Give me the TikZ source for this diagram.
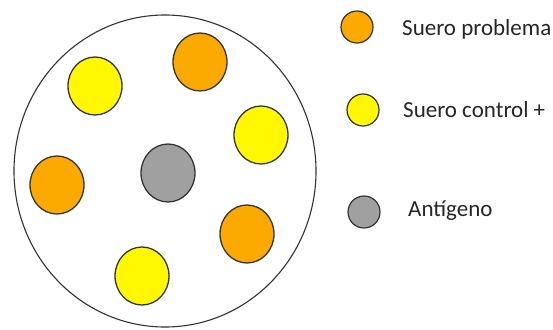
\documentclass[tikz,border=0pt]{standalone}
\usepackage{fontspec}
\setmainfont{Carlito}
\usetikzlibrary{positioning}
\usetikzlibrary{shapes.geometric}
\definecolor{problemaorange}{RGB}{252,170,0}
\definecolor{controlyellow}{RGB}{255,248,0}
\definecolor{antigenogray}{RGB}{160,160,160}
\tikzset{pozo/.style = {draw=black!80, line width=1.3pt, ellipse, inner sep=0, minimum width=54, minimum height=58},
         leyenda/.style = {draw=black!80, line width=1.2pt, circle, inner sep=0, minimum size=32},
         texto/.style = {font=\fontsize{23}{26}\selectfont, text=black!85, anchor=west, inner sep=0}}

\begin{document}
\begin{tikzpicture}[x=1pt, y=-1pt]
    \useasboundingbox (0,0) rectangle (553,329);
    % placa
    \node[draw=black!80, line width=1.1pt, ellipse, inner sep=0, minimum width=302, minimum height=312] (placa) at (165,171) {};
    % pozos
    \node[pozo, fill=antigenogray] (ag) at (168,173) {};
    \node[pozo, fill=problemaorange] (p1) at (200,62) {};
    \node[pozo, fill=problemaorange] (p2) at (57,185) {};
    \node[pozo, fill=problemaorange] (p3) at (247,234) {};
    \node[pozo, fill=controlyellow] (c1) at (95,86) {};
    \node[pozo, fill=controlyellow] (c2) at (261,135) {};
    \node[pozo, fill=controlyellow] (c3) at (142,276) {};
    % leyenda
    \node[leyenda, fill=problemaorange] (lp) at (357,27) {};
    \node[leyenda, fill=controlyellow] (lc) at (363,110) {};
    \node[leyenda, fill=antigenogray] (la) at (364,212) {};
    \node[texto] (tp) at (402,29) {Suero problema};
    \node[texto] (tc) at (403,110) {Suero control +};
    \node[texto] (ta) at (408,211) {Antígeno};
\end{tikzpicture}
\end{document}
